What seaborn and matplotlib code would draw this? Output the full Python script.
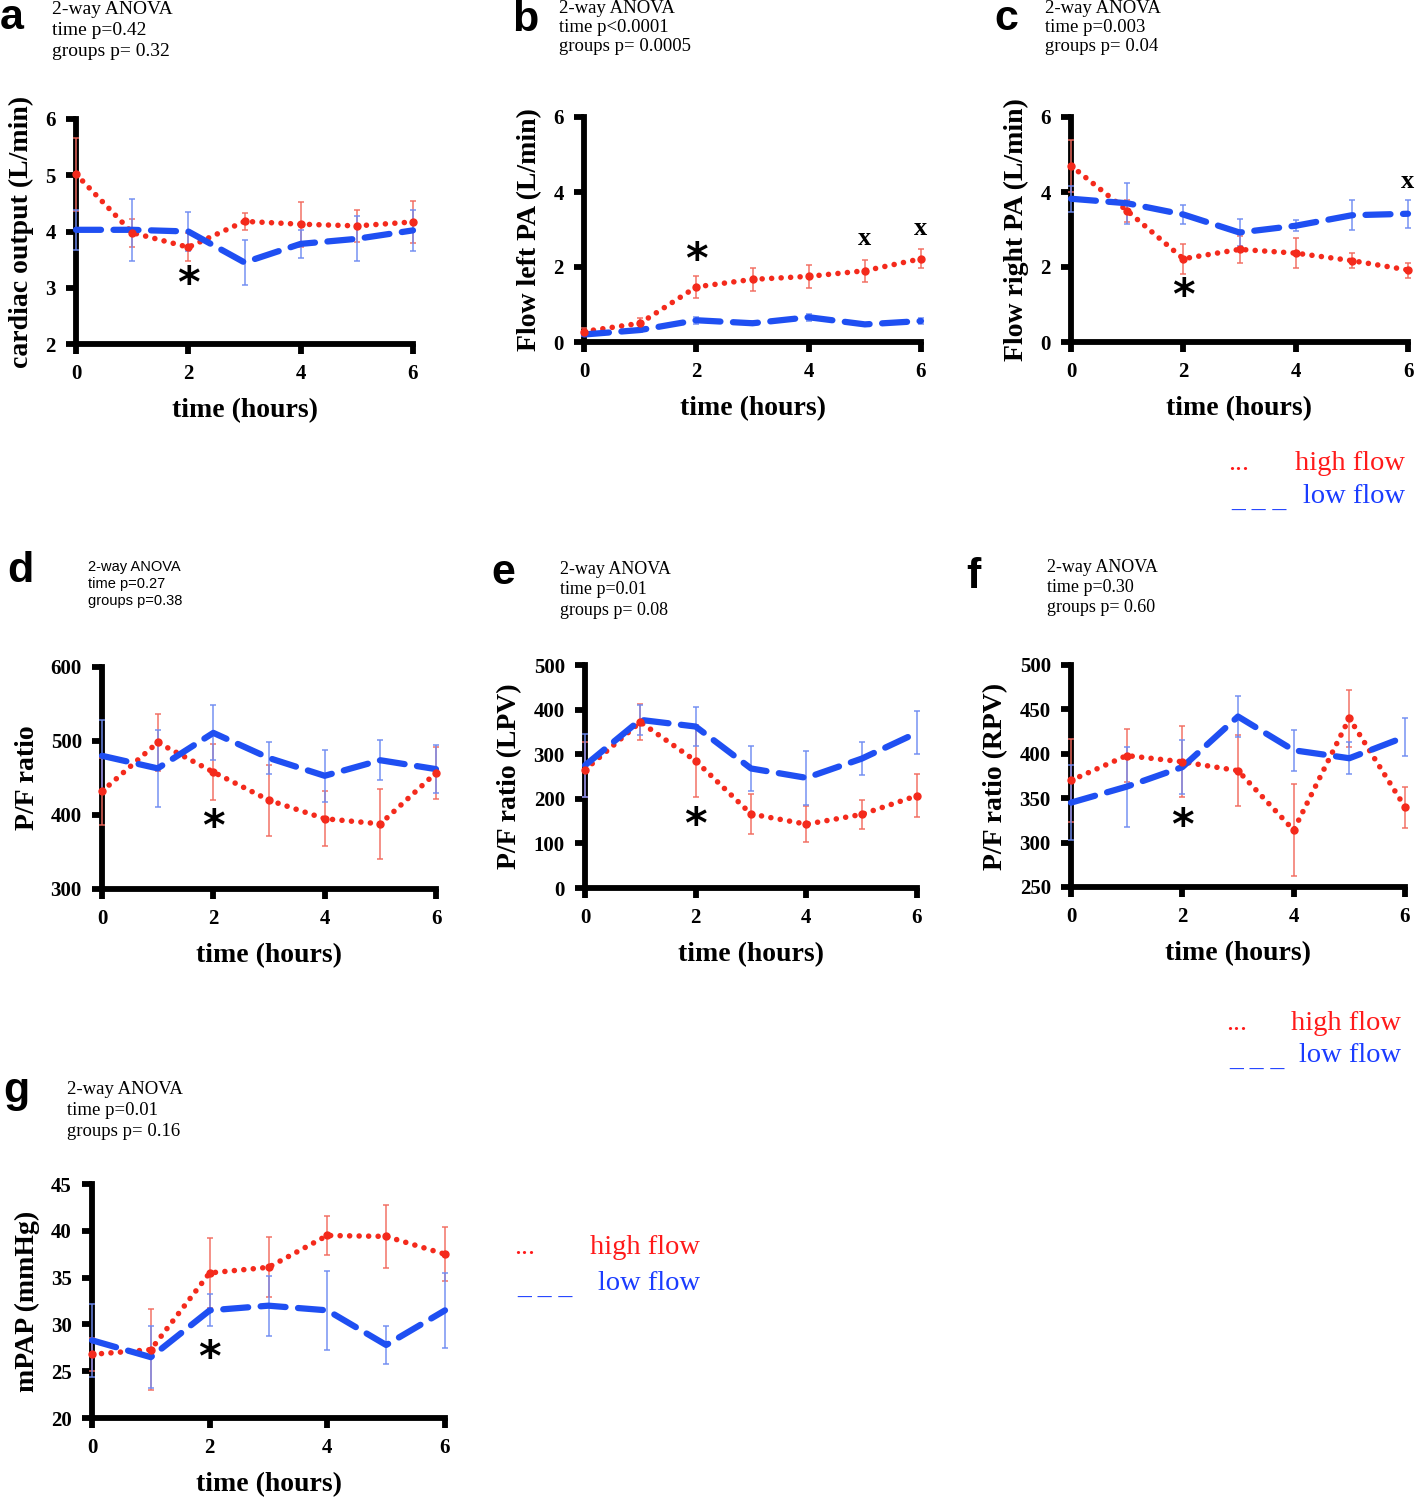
import matplotlib
matplotlib.use("Agg")
import matplotlib.pyplot as plt
import seaborn as sns
import pandas as pd

# time points (hours)
hours = [0, 1, 2, 3, 4, 5, 6]

# a: cardiac output (L/min)
co_high = [5.02, 3.98, 3.72, 4.18, 4.13, 4.10, 4.17]
co_high_err = [0.65, 0.25, 0.25, 0.15, 0.40, 0.28, 0.38]
co_low = [4.03, 4.03, 4.00, 3.45, 3.78, 3.87, 4.02]
co_low_err = [0.35, 0.55, 0.35, 0.40, 0.25, 0.40, 0.37]

# b: flow left PA (L/min)
lpa_high = [0.28, 0.50, 1.47, 1.67, 1.75, 1.90, 2.22]
lpa_high_err = [0.10, 0.15, 0.30, 0.30, 0.30, 0.30, 0.25]
lpa_low = [0.20, 0.32, 0.58, 0.50, 0.66, 0.47, 0.56]
lpa_low_err = [0.05, 0.05, 0.10, 0.05, 0.10, 0.05, 0.08]

# c: flow right PA (L/min)
rpa_high = [4.70, 3.50, 2.22, 2.47, 2.37, 2.17, 1.92]
rpa_high_err = [0.70, 0.30, 0.40, 0.35, 0.40, 0.20, 0.20]
rpa_low = [3.82, 3.70, 3.40, 2.92, 3.10, 3.38, 3.42]
rpa_low_err = [0.35, 0.55, 0.25, 0.35, 0.15, 0.40, 0.38]

# d: P/F ratio
pf_high = [432, 498, 458, 420, 395, 388, 457]
pf_high_err = [45, 38, 38, 48, 37, 47, 35]
pf_low = [480, 463, 511, 477, 453, 474, 462]
pf_low_err = [48, 52, 37, 22, 35, 27, 32]

# e: P/F ratio (LPV)
lpv_high = [265, 372, 285, 166, 143, 165, 207]
lpv_high_err = [62, 40, 80, 45, 40, 32, 48]
lpv_low = [275, 377, 362, 268, 247, 290, 348]
lpv_low_err = [70, 33, 43, 50, 60, 37, 48]

# f: P/F ratio (RPV)
rpv_high = [370, 398, 391, 381, 314, 440, 340]
rpv_high_err = [47, 30, 40, 40, 52, 32, 23]
rpv_low = [345, 363, 385, 442, 404, 395, 419]
rpv_low_err = [42, 45, 30, 23, 23, 18, 21]

# g: mPAP (mmHg)
map_high = [26.8, 27.3, 35.5, 36.1, 39.5, 39.4, 37.5]
map_high_err = [1.8, 4.3, 3.7, 3.2, 2.1, 3.4, 2.9]
map_low = [28.3, 26.5, 31.5, 32.0, 31.5, 27.8, 31.5]
map_low_err = [3.9, 3.3, 1.7, 3.2, 4.2, 2.0, 4.0]

W, H = 1416, 1497
RED = "#f42a1c"
BLUE = "#1f4ff2"
RED_ERR = "#f26a5e"
BLUE_ERR = "#6f8cf2"

sns.set_style("ticks")
plt.rcParams["font.family"] = ["Liberation Serif", "DejaVu Serif"]
plt.rcParams["axes.edgecolor"] = "black"
plt.rcParams["axes.labelcolor"] = "black"
plt.rcParams["text.color"] = "black"
plt.rcParams["xtick.color"] = "black"
plt.rcParams["ytick.color"] = "black"

fig = plt.figure(figsize=(W / 100, H / 100), dpi=100)


def px_axes(left, top, right, bottom):
    return fig.add_axes([left / W, 1 - bottom / H, (right - left) / W, (bottom - top) / H])


def fig_text(x, y, s, **kw):
    fig.text(x / W, 1 - y / H, s, **kw)


def panel(rect, high, high_err, low, low_err, ylabel, yticks, marks):
    ax = px_axes(*rect)
    df = pd.DataFrame({"time": hours + hours,
                       "value": high + low,
                       "group": ["high flow"] * 7 + ["low flow"] * 7})
    ax.errorbar(hours, high, yerr=high_err, fmt="none", ecolor=RED_ERR, alpha=0.8,
                elinewidth=1.3, capsize=2, capthick=1.3, zorder=3, clip_on=False)
    ax.errorbar(hours, low, yerr=low_err, fmt="none", ecolor=BLUE_ERR, alpha=0.8,
                elinewidth=1.3, capsize=2, capthick=1.3, zorder=3, clip_on=False)
    sns.lineplot(data=df[df.group == "high flow"], x="time", y="value", ax=ax,
                 color=RED, linewidth=4.0, linestyle=(0, (0.01, 1.7)),
                 dash_capstyle="round", errorbar=None, clip_on=False, zorder=4)
    sns.lineplot(data=df[df.group == "low flow"], x="time", y="value", ax=ax,
                 color=BLUE, linewidth=4.5, linestyle=(0, (4.0, 2.0)),
                 dash_capstyle="round", errorbar=None, clip_on=False, zorder=4)
    ax.plot(hours, high, "o", color=RED, ms=5, zorder=5, clip_on=False)
    ax.set_xlim(0, 6)
    ax.set_ylim(yticks[0], yticks[-1])
    ax.set_xticks([0, 2, 4, 6])
    ax.set_yticks(yticks)
    for s in ["top", "right"]:
        ax.spines[s].set_visible(False)
    for s in ["left", "bottom"]:
        ax.spines[s].set_linewidth(4.2)
    ax.tick_params(width=4.2, length=7.5, direction="out", pad=7, labelsize=15)
    for lab in ax.get_xticklabels() + ax.get_yticklabels():
        lab.set_fontweight("bold")
    ax.set_xlabel("time (hours)", fontsize=20, fontweight="bold", labelpad=10)
    ax.set_ylabel(ylabel, fontsize=20, fontweight="bold", labelpad=8)
    for sym, mx, my in marks:
        if sym == "*":
            ax.text(mx, my, "*", fontsize=31, fontweight="bold", ha="center", va="center",
                    family="DejaVu Sans")
        else:
            ax.text(mx, my, sym, fontsize=19, fontweight="bold", ha="center", va="center",
                    clip_on=False)
    return ax


panel((76, 119, 413, 344), co_high, co_high_err, co_low, co_low_err,
      "cardiac output (L/min)", [2, 3, 4, 5, 6], [("*", 2, 3.05)])
panel((584, 117, 921, 342), lpa_high, lpa_high_err, lpa_low, lpa_low_err,
      "Flow left PA (L/min)", [0, 2, 4, 6], [("*", 2, 2.15), ("x", 5, 2.77), ("x", 6, 3.03)])
panel((1071, 117, 1408, 342), rpa_high, rpa_high_err, rpa_low, rpa_low_err,
      "Flow right PA (L/min)", [0, 2, 4, 6], [("*", 2, 1.2), ("x", 6, 4.27)])
panel((102, 667, 436, 889), pf_high, pf_high_err, pf_low, pf_low_err,
      "P/F ratio", [300, 400, 500, 600], [("*", 2, 382)])
panel((585, 665, 917, 888), lpv_high, lpv_high_err, lpv_low, lpv_low_err,
      "P/F ratio (LPV)", [0, 100, 200, 300, 400, 500], [("*", 2, 138)])
panel((1071, 665, 1405, 887), rpv_high, rpv_high_err, rpv_low, rpv_low_err,
      "P/F ratio (RPV)", [250, 300, 350, 400, 450, 500], [("*", 2, 318)])
panel((92, 1184, 445, 1418), map_high, map_high_err, map_low, map_low_err,
      "mPAP (mmHg)", [20, 25, 30, 35, 40, 45], [("*", 2, 26.3)])

# panel letters
letters = [("a", 0, 29), ("b", 512, 31), ("c", 994, 30), ("d", 7, 582),
           ("e", 491, 584), ("f", 966, 588), ("g", 3, 1102)]
for let, lx, ly in letters:
    fig_text(lx, ly, let, fontsize=31, fontweight="bold", family="Liberation Sans",
             va="baseline", ha="left")

# 2-way ANOVA annotations
anova = [
    (52, 1, "2-way ANOVA\ntime p=0.42\ngroups p= 0.32", "Liberation Serif", 14, 1.3),
    (559, 0, "2-way ANOVA\ntime p<0.0001\ngroups p= 0.0005", "Liberation Serif", 13.5, 1.15),
    (1045, 0, "2-way ANOVA\ntime p=0.003\ngroups p= 0.04", "Liberation Serif", 13.5, 1.15),
    (88, 560, "2-way ANOVA\ntime p=0.27\ngroups p=0.38", "Liberation Sans", 10.5, 1.25),
    (560, 561, "2-way ANOVA\ntime p=0.01\ngroups p= 0.08", "Liberation Serif", 13, 1.25),
    (1047, 559, "2-way ANOVA\ntime p=0.30\ngroups p= 0.60", "Liberation Serif", 13, 1.25),
    (67, 1081, "2-way ANOVA\ntime p=0.01\ngroups p= 0.16", "Liberation Serif", 13.5, 1.3),
]
for ax_, ay_, txt, fam, fs, ls in anova:
    fig_text(ax_, ay_, txt, fontsize=fs, family=fam, va="top", ha="left", linespacing=ls)

# legends
legends = [(1228, 1405, 470, 503), (1226, 1401, 1030, 1062), (514, 700, 1254, 1290)]
for x0, x1, y_hi, y_lo in legends:
    fig_text(x0, y_hi, "...", fontsize=20, color="#ff1a1a", ha="left", va="baseline")
    fig_text(x1, y_hi, "high flow", fontsize=20.5, color="#ff1a1a", ha="right", va="baseline")
    fig_text(x0 + 3, y_lo + 4, "_ _ _", fontsize=20, color="#1a3cff", ha="left", va="baseline")
    fig_text(x1, y_lo, "low flow", fontsize=20.5, color="#1a3cff", ha="right", va="baseline")

plt.savefig("out.png", dpi=100)
